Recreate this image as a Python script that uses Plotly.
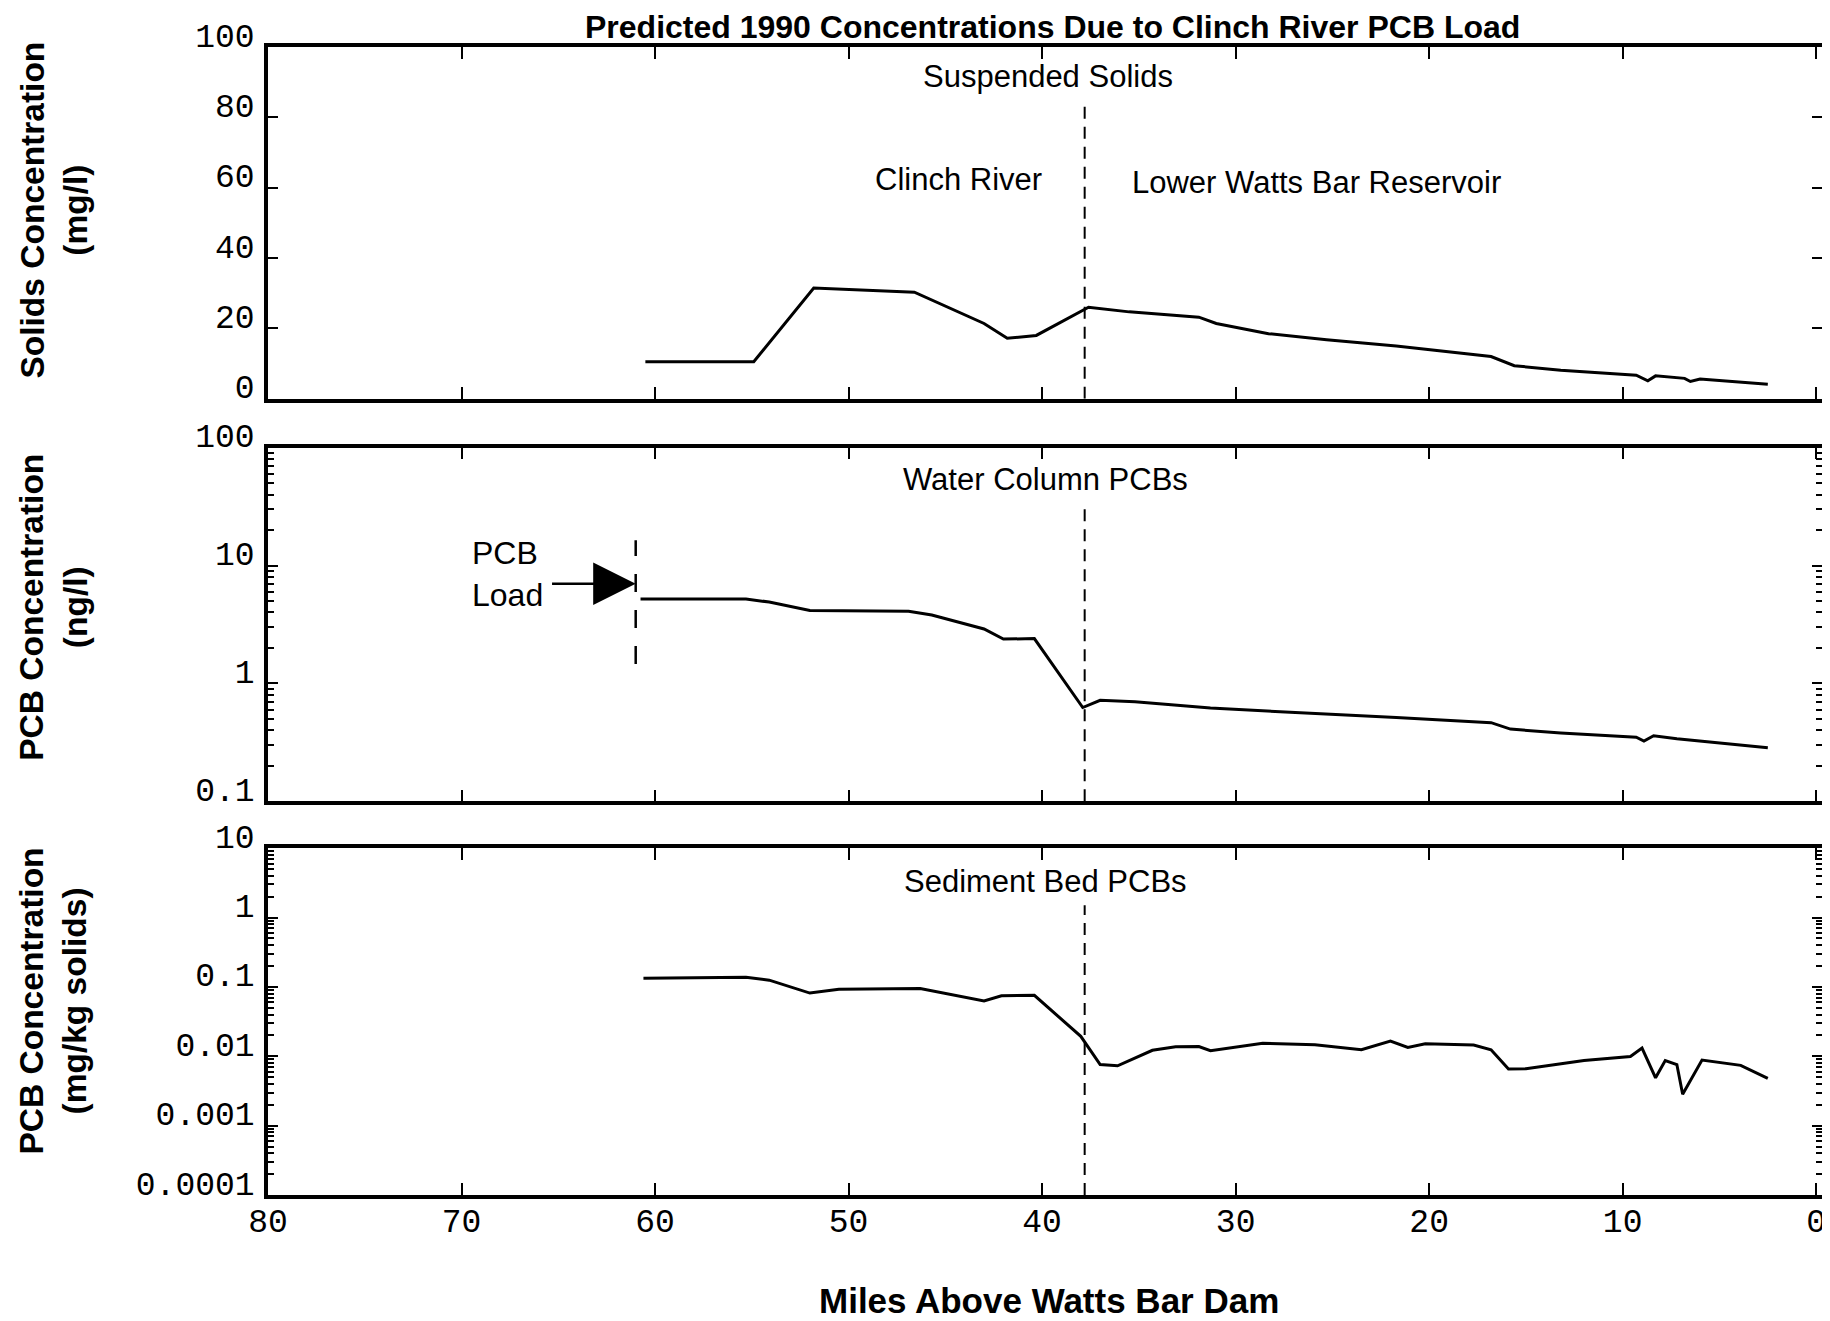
import math
import plotly.graph_objects as go

# miles above Watts Bar Dam
miles_solids = [60.5, 54.9, 51.8, 46.6, 43.0, 41.8, 40.3, 37.6, 35.5, 31.9, 31.0, 28.3,
                25.3, 21.7, 16.8, 15.6, 13.2, 9.3, 8.7, 8.3, 6.8, 6.5, 6.0, 2.5]
solids = [10.5, 10.5, 31.5, 30.3, 21.4, 17.2, 18.0, 26.0, 24.7, 23.2, 21.4, 18.5,
          16.8, 15.0, 12.0, 9.4, 8.1, 6.7, 5.1, 6.5, 5.8, 4.9, 5.6, 4.1]

miles_water = [60.75, 55.3, 54.1, 52.0, 46.9, 45.7, 43.0, 42.0, 40.4, 37.9, 37.0, 35.2,
               31.3, 27.7, 21.7, 16.8, 15.8, 13.2, 9.3, 8.9, 8.4, 7.2, 2.5]
water_pcb = [5.2, 5.2, 4.9, 4.15, 4.1, 3.8, 2.9, 2.38, 2.4, 0.625, 0.72, 0.70,
             0.62, 0.575, 0.515, 0.465, 0.41, 0.38, 0.35, 0.325, 0.36, 0.34, 0.285]

miles_sed = [60.6, 55.3, 54.1, 52.0, 50.5, 46.3, 43.0, 42.1, 40.4, 38.0, 37.0, 36.1,
             34.3, 33.1, 31.9, 31.3, 28.6, 25.9, 23.5, 22.0, 21.1, 20.2, 17.7, 16.8,
             15.9, 15.0, 12.0, 9.6, 9.0, 8.3, 7.8, 7.2, 6.9, 5.9, 3.9, 2.5]
sed_pcb = [0.133, 0.138, 0.125, 0.0815, 0.0925, 0.095, 0.0627, 0.0745, 0.0755, 0.0194,
           0.0076, 0.0073, 0.0122, 0.0137, 0.0138, 0.012, 0.0154, 0.0147, 0.0124, 0.0166,
           0.0134, 0.0151, 0.0145, 0.0124, 0.00656, 0.0066, 0.0087, 0.0099, 0.0131,
           0.0049, 0.0087, 0.0076, 0.00284, 0.0088, 0.0074, 0.0048]

# Clinch River / Lower Watts Bar boundary and PCB load point
boundary_mile = 37.8
boundary_top = [84, 30, 1.5]          # where the dashed line starts in each panel
load_mile = 61.0
load_conc = 7.0
load_arrow_from = 65.4
load_marker_span = [1.46, 16.4]

x_ticks = [80, 70, 60, 50, 40, 30, 20, 10, 0]
solids_ticks = [0, 20, 40, 60, 80, 100]
water_ticks = [0.1, 1, 10, 100]
water_labels = ['0.1', '1', '10', '100']
sed_ticks = [0.0001, 0.001, 0.01, 0.1, 1, 10]
sed_labels = ['0.0001', '0.001', '0.01', '0.1', '1', '10']

MONO = 'Liberation Mono, Courier New, monospace'
SANS = 'Liberation Sans, Arial, sans-serif'
TICKFONT = dict(family=MONO, size=33, color='black')

fig = go.Figure()

line = dict(color='black', width=3)
dash = dict(color='black', width=2, dash='12px,8px')

fig.add_trace(go.Scatter(x=miles_solids, y=solids, mode='lines', line=line, xaxis='x', yaxis='y'))
fig.add_trace(go.Scatter(x=miles_water, y=water_pcb, mode='lines', line=line, xaxis='x2', yaxis='y2'))
fig.add_trace(go.Scatter(x=miles_sed, y=sed_pcb, mode='lines', line=line, xaxis='x3', yaxis='y3'))

# dashed boundary lines
bottoms = [0, 0.1, 0.0001]
for i, ax in enumerate(['', '2', '3']):
    fig.add_trace(go.Scatter(x=[boundary_mile, boundary_mile], y=[bottoms[i], boundary_top[i]],
                             mode='lines', line=dash, xaxis='x' + ax, yaxis='y' + ax))

# PCB load marker
fig.add_trace(go.Scatter(x=[load_mile, load_mile], y=load_marker_span, mode='lines',
                         line=dict(color='black', width=2.5, dash='18px,18px'),
                         xaxis='x2', yaxis='y2'))

def xaxis(domain_anchor, labels):
    return dict(range=[80, -0.3], tickvals=x_ticks, ticks='inside', ticklen=12, tickwidth=2,
                tickcolor='black', showline=True, linewidth=3.5, linecolor='black', mirror='allticks',
                showgrid=False, zeroline=False, anchor=domain_anchor, showticklabels=labels,
                tickfont=TICKFONT, ticklabelstandoff=-6, domain=[0, 1])

def log_yaxis(rng, vals, text, domain, anchor):
    return dict(type='log', range=rng, tickvals=vals, ticktext=text, ticks='inside', ticklen=10,
                tickwidth=2, tickcolor='black', showline=True, linewidth=3.5, linecolor='black',
                mirror='allticks', showgrid=False, zeroline=False, domain=domain, anchor=anchor,
                tickfont=TICKFONT, ticklabelstandoff=3, ticklabelshift=-12,
                minor=dict(ticks='inside', ticklen=6, tickwidth=2, tickcolor='black',
                           showgrid=False, dtick='D1'))

fig.update_layout(
    width=1830, height=1321,
    margin=dict(l=260, r=14, t=35, b=134),
    paper_bgcolor='white', plot_bgcolor='white',
    showlegend=False,
    xaxis=xaxis('y', False),
    xaxis2=xaxis('y2', False),
    xaxis3=xaxis('y3', True),
    yaxis=dict(range=[0, 100], tickvals=solids_ticks, ticks='inside', ticklen=10, tickwidth=2,
               tickcolor='black', showline=True, linewidth=3.5, linecolor='black', mirror='allticks',
               showgrid=False, zeroline=False, domain=[0.6936, 1.0], anchor='x',
               tickfont=TICKFONT, ticklabelstandoff=3, ticklabelshift=-12),
    yaxis2=log_yaxis([-1, 2], water_ticks, water_labels, [0.3429, 0.6510], 'x2'),
    yaxis3=log_yaxis([-4, 1], sed_ticks, sed_labels, [0, 0.3021], 'x3'),
)

lab = dict(family=SANS, size=31, color='black')
notes = [
    ('x', 'y', 39.7, 91.5, 'Suspended Solids'),
    ('x', 'y', 44.3, 62.4, 'Clinch River'),
    ('x', 'y', 25.8, 61.5, 'Lower Watts Bar Reservoir'),
    ('x2', 'y2', 39.85, 1.73, 'Water Column PCBs'),
    ('x3', 'y3', 39.8, 0.52, 'Sediment Bed PCBs'),
]
for xr, yr, xv, yv, txt in notes:
    fig.add_annotation(xref=xr, yref=yr, x=xv, y=yv, text=txt, showarrow=False, font=lab)

fig.add_annotation(xref='x2', yref='y2', x=65.7, y=math.log10(load_conc) + 0.08,
                   text='PCB<br>Load', showarrow=False, align='left', xanchor='right',
                   font=dict(family=SANS, size=32, color='black'))
fig.add_annotation(xref='x2', yref='y2', x=load_mile, y=math.log10(load_conc),
                   axref='x2', ayref='y2', ax=load_arrow_from, ay=math.log10(load_conc),
                   text='', showarrow=True, arrowhead=2, arrowsize=3.4, arrowwidth=2.5,
                   arrowcolor='black')

# titles
bold = dict(family=SANS, size=33.5, color='black', weight='bold')
fig.add_annotation(xref='paper', yref='paper', x=0.505, y=1.0, yanchor='bottom', yshift=0,
                   text='Predicted 1990 Concentrations Due to Clinch River PCB Load',
                   showarrow=False, font=dict(family=SANS, size=32, color='black', weight='bold'))
fig.add_annotation(xref='paper', yref='paper', x=0.5025, y=-0.111,
                   text='Miles Above Watts Bar Dam', showarrow=False,
                   font=dict(family=SANS, size=35, color='black', weight='bold'))

ytitles = [
    ('Solids Concentration<br>(mg/l)', 0.858),
    ('PCB Concentration<br>(ng/l)', 0.512),
    ('PCB Concentration<br>(mg/kg solids)', 0.169),
]
for txt, yc in ytitles:
    fig.add_annotation(xref='paper', yref='paper', x=-0.138, y=yc, text=txt, textangle=-90,
                       showarrow=False, xanchor='center', yanchor='middle',
                       font=bold)

fig.write_html("out.html")
